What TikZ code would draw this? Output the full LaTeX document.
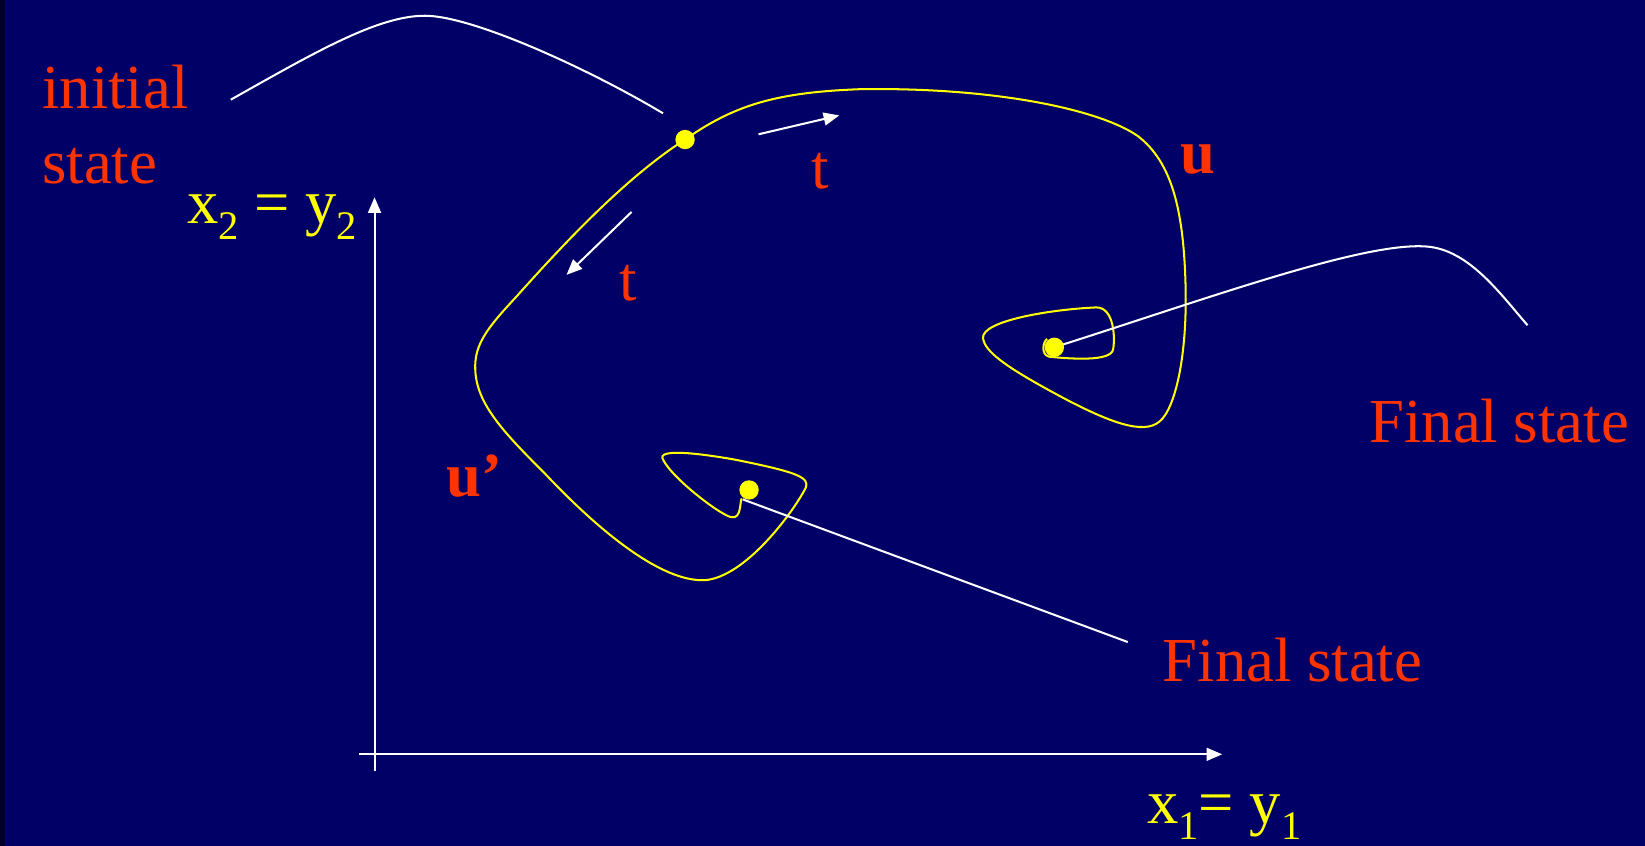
\documentclass[tikz,border=0pt]{standalone}
\usepackage{fontspec}
\setmainfont{Liberation Serif}
\usetikzlibrary{arrows.meta}
\definecolor{slidebg}{RGB}{0,0,102}
\definecolor{slideedge}{RGB}{0,0,40}
\definecolor{slidered}{RGB}{255,51,0}
\definecolor{slideyellow}{RGB}{255,255,0}
\newcommand{\lowidx}[1]{\raisebox{-0.26em}{\fontsize{22}{24}\selectfont #1}}

\begin{document}
\begin{tikzpicture}[x=0.02cm,y=-0.02cm,
  every node/.style={font=\fontsize{34}{40}\selectfont,inner sep=0pt},
  redtext/.style={text=slidered,anchor=base west},
  axistext/.style={text=slideyellow,anchor=base west},
  traj/.style={slideyellow,line width=1.1pt},
  wire/.style={white,line width=1.1pt},
  statedot/.style={circle,fill=slideyellow,minimum size=10.5pt}]
  \fill[slidebg] (0,0) rectangle (1568,806);
  \useasboundingbox (0,0) rectangle (1568,806);
  \fill[slideedge] (0,0) rectangle (5,806);

  \coordinate (p0) at (653,133);
  \coordinate (pR) at (1005,331);
  \coordinate (pB) at (714,467);
  \coordinate (o) at (357,719);
  \coordinate (xend) at (1165,719);
  \coordinate (yend) at (357,188);

  \draw[wire,-{Triangle[length=8.5pt,width=7pt]}] (342,719) -- (xend);
  \draw[wire,-{Triangle[length=8.5pt,width=7pt]}] (357,735) -- (yend);

  \draw[traj] (p0) .. controls (700,100) and (740,88) .. (820,85)
    .. controls (950,83) and (1050,105) .. (1085,130)
    .. controls (1117,155) and (1128,200) .. (1130,270)
    .. controls (1132,340) and (1120,390) .. (1105,402)
    .. controls (1090,414) and (1060,405) .. (1000,372)
    .. controls (960,350) and (938,335) .. (937,322)
    .. controls (936,306) and (1000,295) .. (1045,293)
    .. controls (1062,293) and (1063,322) .. (1061,333)
    .. controls (1059,345) and (1020,342) .. (1000,340)
    .. controls (992,338) and (994,326) .. (998,323);
  \draw[traj] (p0) .. controls (595,170) and (535,235) .. (492,283)
    .. controls (465,312) and (452,328) .. (453,352)
    .. controls (454,385) and (480,412) .. (520,452)
    .. controls (570,505) and (630,555) .. (672,553)
    .. controls (710,550) and (755,490) .. (768,465)
    .. controls (772,455) and (760,450) .. (700,438)
    .. controls (660,431) and (626,428) .. (632,438)
    .. controls (640,455) and (685,490) .. (697,493)
    .. controls (707,495) and (705,478) .. (707,475);

  \draw[wire] (220,95) .. controls (300,50) and (360,15) .. (405,15)
    .. controls (450,15) and (560,65) .. (632,108);
  \coordinate (rtail) at (1456,310);
  \draw[wire] (pR) .. controls (1150,285) and (1300,230) .. (1360,235)
    .. controls (1400,238) and (1430,280) .. (rtail);
  \coordinate (btail) at (1075,612);
  \draw[wire] (708,476) -- (btail);

  \node[statedot] (d0) at (p0) {};
  \node[statedot] (dR) at (pR) {};
  \node[statedot] (dB) at (pB) {};

  \draw[wire,-{Triangle[length=8.5pt,width=7pt]}] (723,128) -- (800,110);
  \draw[wire,-{Triangle[length=8.5pt,width=7pt]}] (602,202) -- (540,262);

  \node[redtext] (ini) at (40,103) {initial};
  \node[redtext] (ini2) at (40,175) {state};
  \node[redtext] (t1) at (773,180) {t};
  \node[redtext] (t2) at (590,286) {t};
  \node[redtext] (u) at (1125,165) {\textbf{u}};
  \node[redtext] (u2) at (425,473) {\textbf{u’}};
  \node[redtext] (fin1) at (1305,422) {Final state};
  \node[redtext] (fin2) at (1108,650) {Final state};
  \node[axistext] (ylab) at (178,213) {x\lowidx{2} = y\lowidx{2}};
  \node[axistext] (xlab) at (1093,785) {x\lowidx{1}= y\lowidx{1}};
\end{tikzpicture}
\end{document}
